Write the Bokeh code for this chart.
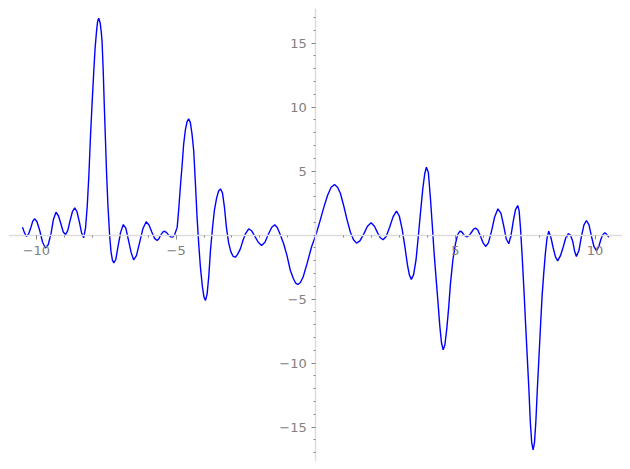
from bokeh.plotting import figure
from bokeh.models import FixedTicker, CustomJSTickFormatter, Range1d
from bokeh.embed import file_html
from bokeh.resources import INLINE

# curve values (x, f(x))
xs = [-10.5, -10.43, -10.36, -10.28, -10.2, -10.13, -10.06, -9.98, -9.88, -9.78,
      -9.68, -9.58, -9.48, -9.39, -9.30, -9.21, -9.12, -9.04, -8.96, -8.88,
      -8.80, -8.71, -8.63, -8.55, -8.46, -8.38, -8.31, -8.24, -8.18, -8.12,
      -8.07, -8.01, -7.95, -7.90, -7.85, -7.81, -7.77, -7.72, -7.68, -7.65,
      -7.61, -7.57, -7.53, -7.49, -7.44, -7.38, -7.33, -7.28, -7.23, -7.16,
      -7.08, -6.99, -6.89, -6.80, -6.71, -6.61, -6.52, -6.42, -6.31, -6.19,
      -6.07, -5.97, -5.87, -5.77, -5.68, -5.61, -5.54, -5.47, -5.41, -5.34,
      -5.26, -5.19, -5.12, -5.05, -4.96, -4.90, -4.84, -4.78, -4.73, -4.67,
      -4.61, -4.55, -4.49, -4.43, -4.37, -4.31, -4.25, -4.19, -4.13, -4.06,
      -4.00, -3.95, -3.89, -3.83, -3.77, -3.70, -3.63, -3.55, -3.48, -3.41,
      -3.34, -3.27, -3.20, -3.12, -3.04, -2.96, -2.88, -2.80, -2.70, -2.62,
      -2.52, -2.40, -2.30, -2.18, -2.06, -1.94, -1.82, -1.70, -1.58, -1.47,
      -1.38, -1.28, -1.15, -1.03, -0.91, -0.80, -0.72, -0.64, -0.55, -0.45,
      -0.31, -0.15, 0.0, 0.15, 0.29, 0.42, 0.55, 0.67, 0.78, 0.88,
      1.00, 1.12, 1.24, 1.35, 1.46, 1.58, 1.72, 1.85, 1.98, 2.10,
      2.21, 2.31, 2.41, 2.52, 2.64, 2.77, 2.89, 2.99, 3.09, 3.19,
      3.28, 3.35, 3.42, 3.50, 3.59, 3.67, 3.75, 3.83, 3.90, 3.96,
      4.03, 4.11, 4.17, 4.23, 4.30, 4.37, 4.44, 4.50, 4.56, 4.62,
      4.69, 4.76, 4.82, 4.91, 5.00, 5.08, 5.16, 5.23, 5.31, 5.41,
      5.50, 5.58, 5.65, 5.72, 5.80, 5.90, 5.99, 6.08, 6.18, 6.29,
      6.40, 6.52, 6.63, 6.73, 6.82, 6.91, 6.99, 7.07, 7.15, 7.23,
      7.28, 7.33, 7.39, 7.45, 7.51, 7.57, 7.63, 7.68, 7.73, 7.78,
      7.83, 7.88, 7.93, 7.99, 8.05, 8.10, 8.16, 8.22, 8.28, 8.34,
      8.42, 8.50, 8.58, 8.66, 8.76, 8.86, 8.95, 9.04, 9.12, 9.20,
      9.27, 9.33, 9.42, 9.51, 9.60, 9.69, 9.78, 9.87, 9.96, 10.05,
      10.13, 10.21, 10.28, 10.35, 10.42, 10.49]
ys = [0.62, 0.2, -0.1, 0.1, 0.6, 1.1, 1.28, 1.05, 0.35, -0.55,
      -1.0, -0.75, 0.1, 1.25, 1.8, 1.5, 0.85, 0.25, 0.05, 0.35,
      1.1, 1.85, 2.14, 1.85, 1.0, 0.15, -0.2, 0.6, 2.3, 4.8,
      7.5, 10.2, 12.7, 14.6, 15.9, 16.7, 16.95, 16.6, 15.9, 15.1,
      12.9, 10.1, 7.5, 4.9, 2.3, 0.0, -1.3, -1.95, -2.16, -1.9,
      -0.9, 0.2, 0.83, 0.55, -0.35, -1.35, -1.93, -1.6, -0.6, 0.5,
      1.05, 0.8, 0.25, -0.25, -0.41, -0.25, 0.05, 0.26, 0.31, 0.2,
      0.0, -0.13, -0.15, 0.05, 0.63, 2.2, 4.0, 5.6, 7.1, 8.2,
      8.85, 9.09, 8.8, 7.9, 6.6, 4.1, 1.4, -0.7, -2.5, -4.0,
      -4.85, -5.1, -4.6, -3.2, -1.2, 0.5, 1.93, 2.9, 3.45, 3.62,
      3.3, 2.2, 0.63, -0.6, -1.3, -1.65, -1.72, -1.5, -1.07, -0.5,
      0.1, 0.5, 0.35, -0.1, -0.55, -0.8, -0.55, 0.05, 0.6, 0.81,
      0.6, 0.1, -0.67, -1.6, -2.76, -3.4, -3.75, -3.85, -3.7, -3.25,
      -2.2, -0.9, 0.0, 1.1, 2.19, 3.1, 3.75, 3.96, 3.75, 3.28,
      2.3, 1.2, 0.23, -0.35, -0.62, -0.45, 0.1, 0.7, 0.97, 0.7,
      0.2, -0.2, -0.36, -0.1, 0.6, 1.45, 1.88, 1.5, 0.5, -0.9,
      -2.3, -3.1, -3.45, -3.1, -1.9, -0.1, 1.8, 3.6, 4.8, 5.31,
      4.9, 2.71, 0.8, -1.2, -3.2, -5.1, -7.1, -8.4, -8.95, -8.6,
      -7.3, -5.6, -3.8, -1.9, -0.67, 0.05, 0.31, 0.25, 0.0, -0.13,
      0.0, 0.25, 0.48, 0.55, 0.4, -0.1, -0.6, -0.88, -0.6, 0.3,
      1.4, 2.06, 1.7, 0.7, -0.3, -0.67, 0.0, 1.1, 2.0, 2.32,
      1.9, 0.5, -1.72, -4.2, -6.9, -9.5, -12.1, -14.6, -16.2, -16.77,
      -16.2, -14.5, -12.1, -9.5, -6.9, -4.8, -3.0, -1.4, -0.2, 0.31,
      -0.2, -1.0, -1.7, -2.0, -1.6, -0.9, -0.2, 0.12, 0.0, -0.5,
      -1.3, -1.66, -1.2, -0.1, 0.8, 1.15, 0.8, -0.1, -0.9, -1.2,
      -0.9, -0.3, 0.05, 0.19, 0.05, -0.16]

x_major = [-10, -5, 5, 10]
x_minor = list(range(-10, 11))
y_major = [-15, -10, -5, 5, 10, 15]
y_minor = list(range(-17, 18))

p = figure(width=622, height=461, output_backend="svg", toolbar_location=None,
           x_range=Range1d(-11.0, 10.98), y_range=Range1d(-17.68, 17.71),
           min_border_left=8, min_border_top=8, min_border_right=0, min_border_bottom=0)
p.outline_line_color = None
p.grid.visible = False
p.background_fill_color = "white"

p.line(xs, ys, line_color="#0000ff", line_width=1.4)

fmt = CustomJSTickFormatter(code="return (tick < 0 ? '\\u2212' : '') + Math.abs(tick);")
for ax, major, minor in ((p.xaxis[0], x_major, x_minor), (p.yaxis[0], y_major, y_minor)):
    ax.fixed_location = 0
    ax.ticker = FixedTicker(ticks=major, minor_ticks=minor)
    ax.formatter = fmt
    ax.axis_line_color = "#dddddd"
    ax.axis_line_width = 1.5
    ax.major_tick_line_color = "#888888"
    ax.minor_tick_line_color = "#888888"
    ax.major_tick_in = 0
    ax.major_tick_out = 4
    ax.minor_tick_in = 0
    ax.minor_tick_out = 2
    ax.major_label_text_color = "#808080"
    ax.major_label_text_font = "DejaVu Sans"
    ax.major_label_text_font_size = "13px"
p.xaxis[0].major_label_standoff = 7
p.yaxis[0].major_label_standoff = 5

open("out.html", "w").write(file_html(p, INLINE))
